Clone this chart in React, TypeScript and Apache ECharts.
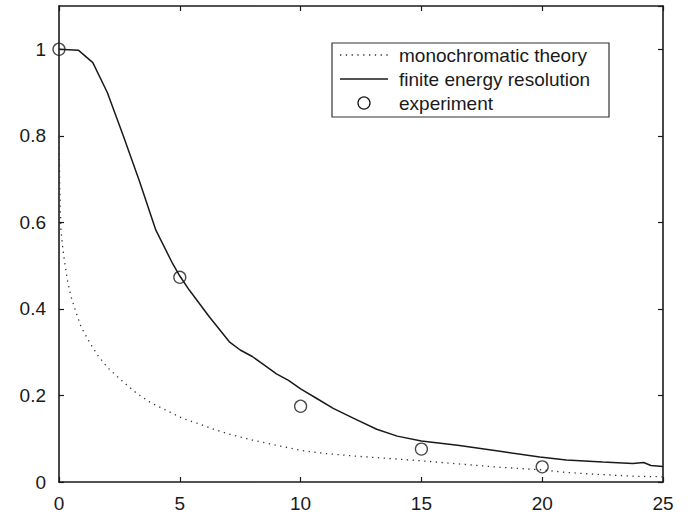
import React, { useEffect, useRef } from "react";
import * as echarts from "echarts";

const xTicks = [0, 5, 10, 15, 20, 25];
const yTicks = [0, 0.2, 0.4, 0.6, 0.8, 1];

const monoX = [0.005, 0.03, 0.08, 0.15, 0.25, 0.36, 0.5, 0.7, 0.91, 1.25, 1.6, 2.0, 2.5, 3.19, 3.81, 4.5, 5.12, 5.81, 6.5, 7.16, 8, 9, 10, 11, 12.2, 13.5, 15, 16.5, 18, 20, 21, 22.5, 24, 25];
const monoY = [0.8, 0.68, 0.582, 0.543, 0.501, 0.463, 0.428, 0.393, 0.359, 0.324, 0.293, 0.265, 0.239, 0.206, 0.183, 0.164, 0.147, 0.134, 0.12, 0.109, 0.097, 0.085, 0.073, 0.066, 0.06, 0.055, 0.049, 0.042, 0.035, 0.028, 0.022, 0.017, 0.013, 0.012];

const finiteX = [0, 0.8, 1.4, 2.0, 2.66, 3.32, 4.01, 4.7, 5.0, 5.4, 6.22, 7.05, 7.5, 8, 8.5, 9, 9.5, 10, 10.67, 11.35, 12.2, 13.15, 14, 15, 16.5, 18.25, 19.9, 21, 22.5, 23.75, 24.2, 24.5, 25];
const finiteY = [1, 0.998, 0.969, 0.9, 0.8, 0.697, 0.582, 0.505, 0.476, 0.443, 0.382, 0.324, 0.305, 0.29, 0.27, 0.25, 0.235, 0.215, 0.193, 0.17, 0.147, 0.122, 0.106, 0.095, 0.085, 0.071, 0.058, 0.051, 0.046, 0.043, 0.045, 0.038, 0.036];

const expX = [0, 5, 10, 15, 20];
const expY = [1, 0.473, 0.175, 0.076, 0.035];

const legendNames = ["monochromatic theory", "finite energy resolution", "experiment"];

const zip = (xs: number[], ys: number[]) => xs.map((x, i) => [x, ys[i]]);

const INK = "#1a1a1a";
const FONT = "Liberation Sans, Arial, sans-serif";

export default function App() {
  const ref = useRef<HTMLDivElement>(null);
  useEffect(() => {
    if (!ref.current) return;
    const chart = echarts.init(ref.current, null, { renderer: "svg" });
    const axisCommon = {
      axisLine: { show: true, onZero: false, lineStyle: { color: INK, width: 1.6 } },
      axisTick: { show: true, inside: true, length: 5, lineStyle: { color: INK, width: 1.2 } },
      splitLine: { show: false },
    };
    const lgX = 332, lgY = 43, lgW = 277, lgH = 74;
    const rowY = [55, 79, 103];
    const iconX0 = 340, iconX1 = 388, textX = 399;
    chart.setOption({
      animation: false,
      backgroundColor: "#ffffff",
      grid: { left: 59, right: 29, top: 6, bottom: 35, containLabel: false },
      xAxis: [
        {
          type: "value", min: 0, max: 25, interval: 5, position: "bottom",
          ...axisCommon,
          axisLabel: { color: INK, fontSize: 19, fontFamily: FONT, margin: 12 },
        },
        {
          type: "value", min: 0, max: 25, interval: 5, position: "top",
          ...axisCommon,
          axisLabel: { show: false },
        },
      ],
      yAxis: [
        {
          type: "value", min: 0, max: 1.1, interval: 0.2, position: "left",
          ...axisCommon,
          axisLabel: {
            color: INK, fontSize: 19, fontFamily: FONT, margin: 13, showMaxLabel: false,
            formatter: (v: number) => (yTicks.some((t) => Math.abs(t - v) < 1e-9) ? String(Math.round(v * 10) / 10) : ""),
          },
        },
        {
          type: "value", min: 0, max: 1.1, interval: 0.2, position: "right",
          ...axisCommon,
          axisLabel: { show: false },
        },
      ],
      graphic: [
        {
          type: "rect", shape: { x: lgX, y: lgY, width: lgW, height: lgH },
          style: { fill: "#fff", stroke: "#333", lineWidth: 1.2 }, z: 10,
        },
        {
          type: "line", shape: { x1: iconX0, y1: rowY[0], x2: iconX1, y2: rowY[0] },
          style: { stroke: "#333", lineWidth: 1.3, lineDash: [1.3, 4.5] }, z: 11,
        },
        {
          type: "line", shape: { x1: iconX0, y1: rowY[1], x2: iconX1, y2: rowY[1] },
          style: { stroke: INK, lineWidth: 1.5 }, z: 11,
        },
        {
          type: "circle", shape: { cx: (iconX0 + iconX1) / 2, cy: rowY[2], r: 6 },
          style: { fill: "none", stroke: INK, lineWidth: 1.3 }, z: 11,
        },
        ...legendNames.map((name, i) => ({
          type: "text", x: textX, y: rowY[i], z: 11,
          style: { text: name, fill: INK, font: `19px ${FONT}`, textVerticalAlign: "middle", verticalAlign: "middle" },
        })),
      ],
      series: [
        {
          name: legendNames[0],
          type: "line",
          data: zip(monoX, monoY),
          symbol: "none",
          lineStyle: { color: "#333", width: 1.3, type: [1.3, 4.5] },
        },
        {
          name: legendNames[1],
          type: "line",
          data: zip(finiteX, finiteY),
          symbol: "none",
          lineStyle: { color: INK, width: 1.5 },
        },
        {
          name: legendNames[2],
          type: "scatter",
          data: zip(expX, expY),
          symbol: "circle",
          symbolSize: 12,
          itemStyle: { color: "rgba(0,0,0,0)", borderColor: INK, borderWidth: 1.3 },
          z: 5,
        },
      ],
    });
    return () => chart.dispose();
  }, []);
  return <div ref={ref} style={{ width: 692, height: 517, position: "absolute", left: 0, top: 0 }} />;
}
